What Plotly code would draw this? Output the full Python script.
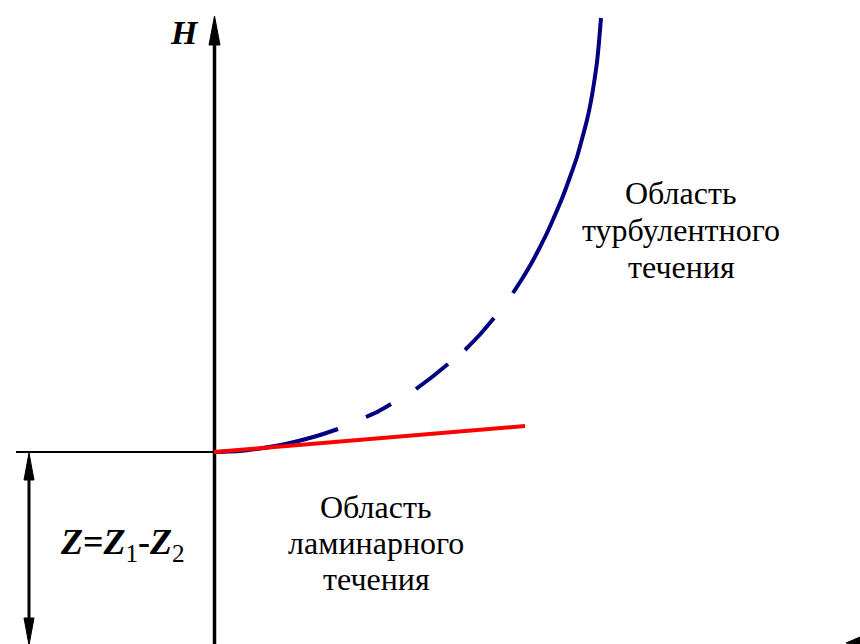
import plotly.graph_objects as go

# Diagram geometry (pixel coordinates of the original drawing)
curve_solid_lo_x = [214, 230, 245, 260, 275, 290, 305, 320, 338]
curve_solid_lo_y = [452, 451.6, 450.4, 448.5, 446, 443, 439.3, 435, 429]
dash_x = [[366, 379, 391], [416, 432, 448], [465, 480, 494]]
dash_y = [[417, 411, 404], [389, 377, 364], [350, 334.5, 318]]
curve_solid_hi_x = [513, 522, 531, 539, 547, 555, 563, 570, 577, 582, 587, 591, 594, 597, 599, 600, 601]
curve_solid_hi_y = [293, 279, 264, 249, 233, 215, 196, 177, 157, 139, 120, 101, 83, 62, 42, 30, 18]
laminar_x = [214, 525]
laminar_y = [452, 426]

axis_v_x = [214.5, 214.5]
axis_v_y = [644, 42]
base_x = [16, 214]
base_y = [452, 452]
z_arrow_x = [29, 29]
z_arrow_y = [476, 622]

turb_lines = ["Область", "турбулентного", "течения"]
lam_lines = ["Область", "ламинарного", "течения"]

BLUE = "#000080"
RED = "#ff0000"
SERIF = "Liberation Serif, Times New Roman, serif"

fig = go.Figure()

def line(xs, ys, color, width, dash=None):
    fig.add_trace(go.Scatter(x=xs, y=ys, mode="lines",
                             line=dict(color=color, width=width, dash=dash, shape="spline", smoothing=0.6),
                             hoverinfo="skip", showlegend=False))

def tri(xs, ys, color="black"):
    fig.add_trace(go.Scatter(x=xs + [xs[0]], y=ys + [ys[0]], mode="lines",
                             fill="toself", fillcolor=color,
                             line=dict(color=color, width=1),
                             hoverinfo="skip", showlegend=False))

# axes / guides
line(axis_v_x, axis_v_y, "black", 3.5)
tri([214.5, 209, 220], [16, 45, 45])
line(base_x, base_y, "black", 2)
line(z_arrow_x, z_arrow_y, "black", 3)
tri([29, 24, 34], [453, 480, 480])
tri([29, 24, 34], [645, 618, 618])
tri([846, 860, 860], [643, 637, 645])

# curves
line(curve_solid_lo_x, curve_solid_lo_y, BLUE, 4)
for dx, dy in zip(dash_x, dash_y):
    line(dx, dy, BLUE, 4)
line(curve_solid_hi_x, curve_solid_hi_y, BLUE, 4)
line(laminar_x, laminar_y, RED, 4)

font = dict(family=SERIF, size=32, color="black")
for i, t in enumerate(turb_lines):
    fig.add_annotation(x=681, y=193 + 37 * i, text=t, showarrow=False,
                       font=font, xanchor="center", yanchor="middle")
for i, t in enumerate(lam_lines):
    fig.add_annotation(x=376, y=507 + 36 * i, text=t, showarrow=False,
                       font=font, xanchor="center", yanchor="middle")

fig.add_annotation(x=184, y=32, text="<b><i>H</i></b>", showarrow=False,
                   font=dict(family=SERIF, size=34, color="black"),
                   xanchor="center", yanchor="middle")
fig.add_annotation(x=122, y=544,
                   text="<b><i>Z</i>=<i>Z</i></b><sub>1</sub><b>-<i>Z</i></b><sub>2</sub>",
                   showarrow=False,
                   font=dict(family=SERIF, size=36, color="black"),
                   xanchor="center", yanchor="middle")

fig.update_layout(
    width=860, height=644,
    margin=dict(l=0, r=0, t=0, b=0),
    paper_bgcolor="white", plot_bgcolor="white",
    xaxis=dict(range=[0, 860], visible=False, fixedrange=True),
    yaxis=dict(range=[644, 0], visible=False, fixedrange=True),
)

fig.write_html("out.html", config={"displayModeBar": False},
               post_script="document.body.style.margin='0';document.body.style.overflow='hidden';")
